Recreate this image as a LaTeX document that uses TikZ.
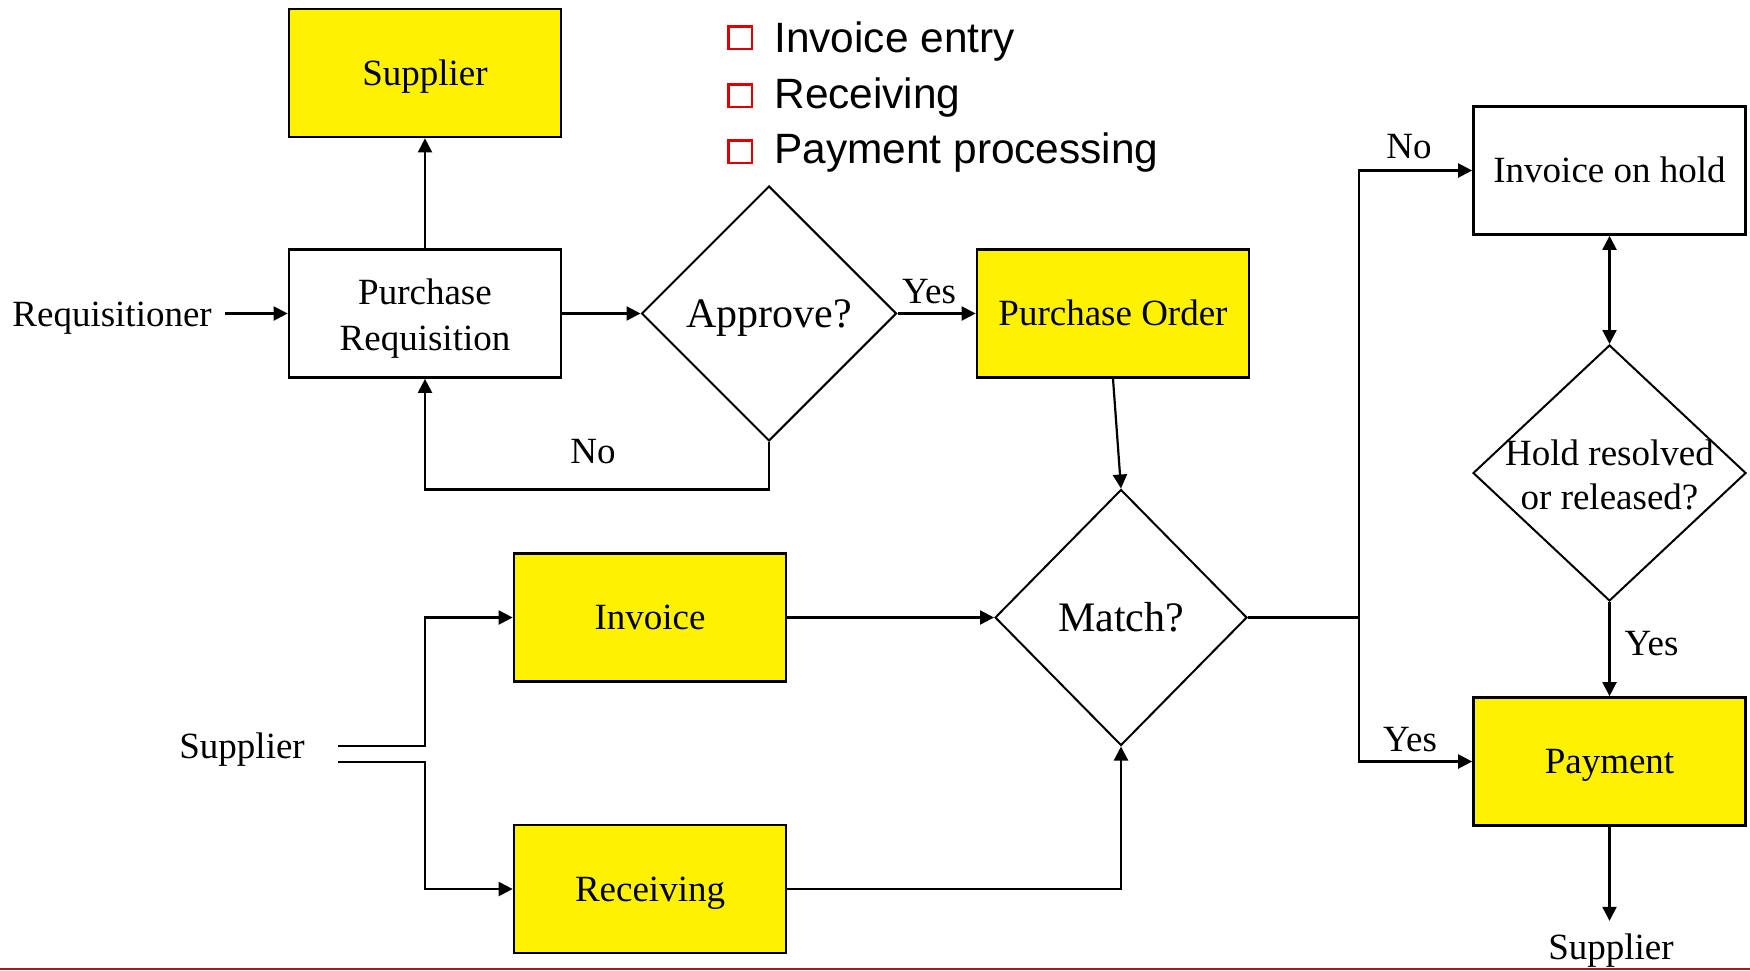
\documentclass[tikz,border=0pt]{standalone}
\usepackage{fontspec}
\setmainfont{Liberation Serif}
\newfontfamily\sansbul{Liberation Sans}
\usetikzlibrary{shapes.geometric,arrows.meta,calc}
\definecolor{bulred}{RGB}{220,0,0}
\definecolor{linered}{RGB}{178,18,28}
\newcommand\fBox{\fontsize{18.5}{23}\selectfont}
\newcommand\fHold{\fontsize{18.5}{22}\selectfont}
\newcommand\fDia{\fontsize{21}{25}\selectfont}
\newcommand\fBul{\fontsize{21.2}{25}\selectfont\sansbul}
\begin{document}
\begin{tikzpicture}[x=0.5pt,y=-0.5pt,
  boxbase/.style={draw,line width=1.35pt,minimum width=136pt,minimum height=64pt,inner sep=0pt,align=center,font=\fBox},
  onebox/.style={boxbase,text height=12.25pt,text depth=0pt},
  ybox/.style={onebox,fill=yellow},
  dec/.style={draw,diamond,line width=1pt,inner sep=0pt,font=\fDia,text height=13.9pt,text depth=0pt},
  conn/.style={line width=1.1pt,-{Triangle[length=7pt,width=7pt]}},
  dbl/.style={line width=1.1pt,{Triangle[length=7pt,width=7pt]}-{Triangle[length=7pt,width=7pt]}},
  lbl/.style={font=\fBox,inner sep=0pt,anchor=base},
  bulbox/.style={draw=bulred,line width=1.25pt,minimum width=11.75pt,minimum height=11.25pt,inner sep=0pt},
  bultext/.style={font=\fBul,inner sep=0pt,anchor=base west}]
\fill[white] (0,0) rectangle (1750,970);
\useasboundingbox (0,0) rectangle (1750,970);

% boxes and decisions
\node[ybox] (sup) at (425,73) {Supplier};
\node[boxbase] (pr) at (425,313.5) {\rule{0pt}{18pt}Purchase\\Requisition};
\node[dec,minimum width=127.5pt,minimum height=127.5pt] (appr) at (769,313.5) {Approve?};
\node[ybox] (po) at (1113,313.5) {Purchase Order};
\node[dec,minimum width=126pt,minimum height=128pt] (match) at (1121,617.5) {Match?};
\node[ybox] (inv) at (650,617.5) {Invoice};
\node[ybox] (rec) at (650,889) {Receiving};
\node[onebox] (onhold) at (1609.5,170.5) {Invoice on hold};
\node[dec,minimum width=136.5pt,minimum height=128pt] (hold) at (1609.5,473) {};
\node[font=\fHold,align=center,inner sep=0pt] (holdtxt) at (1609.5,474.5) {Hold resolved\\or released?};
\node[ybox] (pay) at (1609.5,761.5) {Payment};

% free labels
\node[lbl,anchor=base west] (req) at (12,326.5) {Requisitioner};
\node[lbl,anchor=base west] (supin) at (179,758) {Supplier};
\node[lbl] (supout) at (1611,959) {Supplier};
\node[lbl] (noA) at (593,463) {No};
\node[lbl] (yesA) at (929,303) {Yes};
\node[lbl] (noB) at (1409,158.5) {No};
\node[lbl] (yesB) at (1410,751) {Yes};
\node[lbl] (yesC) at (1651.5,655) {Yes};

% bullet list
\node[bulbox] (b1) at (740,37.5) {};
\node[bultext] (t1) at (774,52) {Invoice entry};
\node[bulbox] (b2) at (740,95.5) {};
\node[bultext] (t2) at (774,108) {Receiving};
\node[bulbox] (b3) at (740,151.5) {};
\node[bultext] (t3) at (774,163) {Payment processing};

% connectors
\coordinate (reqend) at (225,313.5);
\draw[conn] (reqend) -- (pr.west);
\draw[conn] (pr.north) -- (sup.south);
\draw[conn] (pr.east) -- (appr.west);
\draw[conn] (appr.east) -- (po.west);
\draw[conn] (appr.south) -- ++(0,47.5) -| (pr.south);
\draw[conn] (po.south) -- (match.north);
\draw[conn] (inv.east) -- (match.west);
\draw[conn] (rec.east) -| (match.south);

\coordinate (sa) at (338,746);
\coordinate (sb) at (338,762);
\draw[conn] (sa) -| ($(inv.west)+(-88,0)$) -- (inv.west);
\draw[conn] (sb) -| ($(rec.west)+(-88,0)$) -- (rec.west);

\draw[conn] (match.east) -| ($(onhold.west)+(-113,0)$) -- (onhold.west);
\draw[conn] (match.east) -| ($(pay.west)+(-113,0)$) -- (pay.west);
\draw[dbl] (onhold.south) -- (hold.north);
\draw[conn] (hold.south) -- (pay.north);
\draw[conn] (pay.south) -- ++(0,94);

% bottom rule
\draw[linered,line width=1pt] (0,969) -- (1750,969);
\end{tikzpicture}
\end{document}
